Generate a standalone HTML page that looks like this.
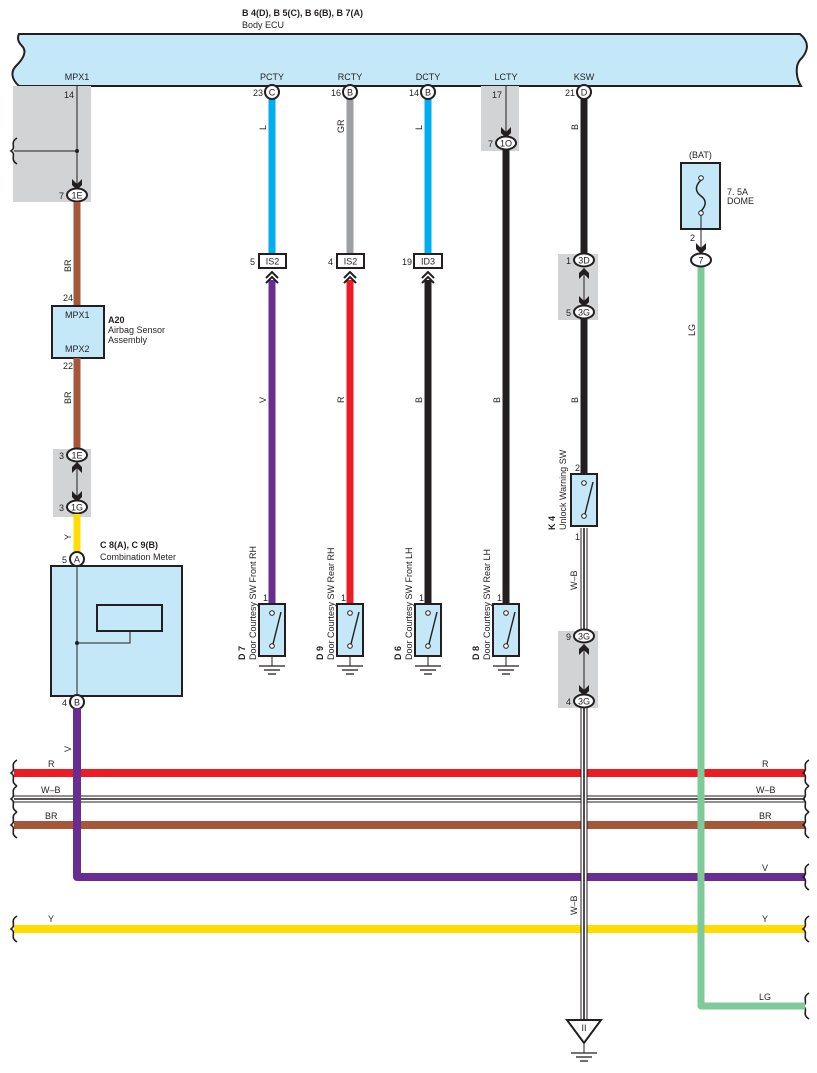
<!DOCTYPE html>
<html><head><meta charset="utf-8"><style>
html,body{margin:0;padding:0;background:#fff}
svg{display:block}
text{font-family:"Liberation Sans",Arial,sans-serif;font-size:9px;fill:#231f20}
.b{font-weight:bold}
</style></head><body>
<svg width="817" height="1073" viewBox="0 0 817 1073" xmlns="http://www.w3.org/2000/svg">
<defs>
<g id="dn"><path d="M-5,-7 L0,-2 L5,-7 L5,-1 L0,4 L-5,-1Z" fill="#231f20"/></g>
<g id="up"><path d="M-5,1 L0,-4 L5,1 L5,7 L0,2 L-5,7Z" fill="#231f20"/></g>
<g id="chev"><polyline points="-6,6 0,0 6,6" fill="none" stroke="#231f20" stroke-width="2"/><polyline points="-6,11 0,5 6,11" fill="none" stroke="#231f20" stroke-width="2"/></g>
<g id="gnd"><line x1="0" y1="0" x2="0" y2="10" stroke="#231f20" stroke-width="1"/><line x1="-13" y1="10" x2="13" y2="10" stroke="#231f20" stroke-width="1.3"/><line x1="-8" y1="14" x2="8" y2="14" stroke="#231f20" stroke-width="1.3"/><line x1="-4" y1="18" x2="4" y2="18" stroke="#231f20" stroke-width="1.3"/></g>
<g id="sw"><rect x="-13" y="0" width="26" height="52" fill="#c5e8f8" stroke="#231f20" stroke-width="2"/><circle cx="0" cy="9" r="2.3" fill="#fff" stroke="#231f20" stroke-width="1"/><circle cx="0" cy="42" r="2.3" fill="#fff" stroke="#231f20" stroke-width="1"/><line x1="1" y1="40" x2="9" y2="8" stroke="#231f20" stroke-width="1.4"/></g>
<g id="brace"><path d="M4,-13 C-4,-8 4,-4 -2,0 C4,4 -4,8 4,13" fill="none" stroke="#231f20" stroke-width="1.6"/></g>
</defs>

<text x="242" y="16" class="b">B 4(D), B 5(C), B 6(B), B 7(A)</text>
<text x="242" y="28">Body ECU</text>
<path d="M19,34 L800,34 C812,44 806,54 800,60 C795,66 796,78 801,86 L19,86 C12,80 10,72 16,66 C22,60 28,52 22,46 C18,42 17,38 19,34Z" fill="#c5e8f8" stroke="#231f20" stroke-width="2"/>
<text x="77" y="80" text-anchor="middle">MPX1</text>
<text x="272" y="80" text-anchor="middle">PCTY</text>
<text x="350" y="80" text-anchor="middle">RCTY</text>
<text x="428" y="80" text-anchor="middle">DCTY</text>
<text x="506" y="80" text-anchor="middle">LCTY</text>
<text x="584" y="80" text-anchor="middle">KSW</text>

<rect x="13" y="86" width="78" height="116" fill="#d1d3d4"/>
<rect x="481" y="86" width="38" height="65" fill="#d1d3d4"/>
<rect x="53" y="449" width="38" height="68" fill="#d1d3d4"/>
<rect x="558" y="254" width="40" height="66" fill="#d1d3d4"/>
<rect x="558" y="631" width="40" height="77" fill="#d1d3d4"/>

<line x1="77" y1="86" x2="77" y2="186" stroke="#231f20" stroke-width="1"/>
<line x1="14" y1="151" x2="77" y2="151" stroke="#231f20" stroke-width="1"/>
<circle cx="77" cy="151" r="2" fill="#231f20"/>
<use href="#brace" x="13" y="151"/>
<use href="#dn" x="77" y="186"/>
<text x="64" y="98">14</text>
<ellipse cx="77" cy="195" rx="10" ry="6.5" fill="#fff" stroke="#231f20" stroke-width="2"/>
<text x="77" y="198.5" text-anchor="middle">1E</text><text x="59" y="199">7</text>
<line x1="77" y1="202" x2="77" y2="306" stroke="#a6573a" stroke-width="7"/>
<text transform="translate(71,272) rotate(-90)">BR</text>
<rect x="52" y="306" width="52" height="52" fill="#c5e8f8" stroke="#231f20" stroke-width="2"/>
<text x="65" y="318">MPX1</text><text x="65" y="352">MPX2</text>
<text x="63" y="301">24</text><text x="63" y="369">22</text>
<text x="108" y="323" class="b">A20</text>
<text x="108" y="333">Airbag Sensor</text><text x="108" y="343">Assembly</text>
<line x1="77" y1="358" x2="77" y2="449" stroke="#a6573a" stroke-width="7"/>
<text transform="translate(71,404) rotate(-90)">BR</text>
<line x1="77" y1="462" x2="77" y2="500" stroke="#231f20" stroke-width="1"/>
<use href="#up" x="77" y="466"/><use href="#dn" x="77" y="498"/>
<ellipse cx="77" cy="455" rx="10" ry="6.5" fill="#fff" stroke="#231f20" stroke-width="2"/>
<text x="77" y="458.5" text-anchor="middle">1E</text><text x="59" y="459">3</text>
<ellipse cx="77" cy="507" rx="10" ry="6.5" fill="#fff" stroke="#231f20" stroke-width="2"/>
<text x="77" y="510.5" text-anchor="middle">1G</text><text x="59" y="511">3</text>
<line x1="77" y1="514" x2="77" y2="553" stroke="#ffdd00" stroke-width="7"/>
<text transform="translate(71,540) rotate(-90)">Y</text>
<text x="100" y="548" class="b">C 8(A), C 9(B)</text>
<text x="100" y="560">Combination Meter</text>
<rect x="51" y="566" width="131" height="130" fill="#c5e8f8" stroke="#231f20" stroke-width="2"/>
<rect x="97" y="605" width="65" height="26" fill="none" stroke="#231f20" stroke-width="2"/>
<line x1="77" y1="559" x2="77" y2="702" stroke="#231f20" stroke-width="1"/>
<polyline points="77,643 130,643 130,631" fill="none" stroke="#231f20" stroke-width="1"/>
<circle cx="77" cy="643" r="2" fill="#231f20"/>
<circle cx="77" cy="559" r="7" fill="#fff" stroke="#231f20" stroke-width="2"/>
<text x="77" y="562.5" text-anchor="middle">A</text><text x="62" y="563">5</text>
<circle cx="77" cy="702" r="7" fill="#fff" stroke="#231f20" stroke-width="2"/>
<text x="77" y="705.5" text-anchor="middle">B</text><text x="62" y="706">4</text>
<text transform="translate(71,752) rotate(-90)">V</text>

<line x1="14" y1="773" x2="805" y2="773" stroke="#ed1c24" stroke-width="8"/>
<line x1="14" y1="799" x2="805" y2="799" stroke="#231f20" stroke-width="7"/>
<line x1="14" y1="799" x2="805" y2="799" stroke="#fff" stroke-width="5"/>
<line x1="14" y1="799" x2="805" y2="799" stroke="#231f20" stroke-width="1.6"/>
<line x1="14" y1="825" x2="805" y2="825" stroke="#a6573a" stroke-width="8"/>
<polyline points="77,708 77,877 805,877" fill="none" stroke="#6b2c91" stroke-width="8" stroke-linejoin="round"/>
<line x1="14" y1="929" x2="805" y2="929" stroke="#ffdd00" stroke-width="8"/>
<text x="48" y="767">R</text><text x="41" y="793">W–B</text><text x="45" y="819">BR</text><text x="48" y="922">Y</text>
<text x="762" y="767">R</text><text x="756" y="793">W–B</text><text x="759" y="819">BR</text><text x="762" y="871">V</text><text x="762" y="922">Y</text><text x="759" y="1000">LG</text>
<use href="#brace" x="13" y="773"/><use href="#brace" x="13" y="799"/><use href="#brace" x="13" y="825"/><use href="#brace" x="13" y="929"/>
<use href="#brace" x="805" y="773"/><use href="#brace" x="805" y="799"/><use href="#brace" x="805" y="825"/><use href="#brace" x="805" y="877"/><use href="#brace" x="805" y="929"/><use href="#brace" x="805" y="1006"/>

<line x1="272" y1="98" x2="272" y2="255" stroke="#00aeef" stroke-width="7"/>
<text transform="translate(266,130) rotate(-90)">L</text>
<circle cx="272" cy="92" r="7" fill="#fff" stroke="#231f20" stroke-width="2"/>
<text x="272" y="95.5" text-anchor="middle">C</text><text x="253" y="96">23</text>
<rect x="259" y="254" width="27" height="14" fill="#fff" stroke="#231f20" stroke-width="2"/>
<text x="272.5" y="264.5" text-anchor="middle">IS2</text><text x="250" y="265">5</text>
<line x1="272" y1="280" x2="272" y2="605" stroke="#6b2c91" stroke-width="7"/>
<use href="#chev" x="272" y="272"/>
<text transform="translate(266,403) rotate(-90)">V</text>
<text x="263" y="601">1</text>
<use href="#sw" x="272" y="604"/><use href="#gnd" x="272" y="656"/>
<text transform="translate(245,660) rotate(-90)" class="b">D 7</text>
<text transform="translate(256,660) rotate(-90)">Door Courtesy SW Front RH</text>

<line x1="350" y1="98" x2="350" y2="255" stroke="#9d9fa2" stroke-width="7"/>
<text transform="translate(344,133) rotate(-90)">GR</text>
<circle cx="350" cy="92" r="7" fill="#fff" stroke="#231f20" stroke-width="2"/>
<text x="350" y="95.5" text-anchor="middle">B</text><text x="331" y="96">16</text>
<rect x="337" y="254" width="27" height="14" fill="#fff" stroke="#231f20" stroke-width="2"/>
<text x="350.5" y="264.5" text-anchor="middle">IS2</text><text x="328" y="265">4</text>
<line x1="350" y1="280" x2="350" y2="605" stroke="#ed1c24" stroke-width="7"/>
<use href="#chev" x="350" y="272"/>
<text transform="translate(344,403) rotate(-90)">R</text>
<text x="341" y="601">1</text>
<use href="#sw" x="350" y="604"/><use href="#gnd" x="350" y="656"/>
<text transform="translate(323,660) rotate(-90)" class="b">D 9</text>
<text transform="translate(334,660) rotate(-90)">Door Courtesy SW Rear RH</text>

<line x1="428" y1="98" x2="428" y2="255" stroke="#00aeef" stroke-width="7"/>
<text transform="translate(422,130) rotate(-90)">L</text>
<circle cx="428" cy="92" r="7" fill="#fff" stroke="#231f20" stroke-width="2"/>
<text x="428" y="95.5" text-anchor="middle">B</text><text x="409" y="96">14</text>
<rect x="414" y="254" width="28" height="14" fill="#fff" stroke="#231f20" stroke-width="2"/>
<text x="428" y="264.5" text-anchor="middle">ID3</text><text x="402" y="265">19</text>
<line x1="428" y1="280" x2="428" y2="605" stroke="#231f20" stroke-width="7"/>
<use href="#chev" x="428" y="272"/>
<text transform="translate(422,403) rotate(-90)">B</text>
<text x="419" y="601">1</text>
<use href="#sw" x="428" y="604"/><use href="#gnd" x="428" y="656"/>
<text transform="translate(401,660) rotate(-90)" class="b">D 6</text>
<text transform="translate(412,660) rotate(-90)">Door Courtesy SW Front LH</text>

<line x1="506" y1="86" x2="506" y2="134" stroke="#231f20" stroke-width="1"/>
<use href="#dn" x="506" y="134"/>
<text x="492" y="98">17</text>
<ellipse cx="506" cy="143" rx="10" ry="6.5" fill="#fff" stroke="#231f20" stroke-width="2"/>
<text x="506" y="146.5" text-anchor="middle">1O</text><text x="488" y="147">7</text>
<line x1="506" y1="150" x2="506" y2="605" stroke="#231f20" stroke-width="7"/>
<text transform="translate(500,403) rotate(-90)">B</text>
<text x="497" y="601">1</text>
<use href="#sw" x="506" y="604"/><use href="#gnd" x="506" y="656"/>
<text transform="translate(479,660) rotate(-90)" class="b">D 8</text>
<text transform="translate(490,660) rotate(-90)">Door Courtesy SW Rear LH</text>

<line x1="584" y1="98" x2="584" y2="254" stroke="#231f20" stroke-width="7"/>
<text transform="translate(578,130) rotate(-90)">B</text>
<circle cx="584" cy="92" r="7" fill="#fff" stroke="#231f20" stroke-width="2"/>
<text x="584" y="95.5" text-anchor="middle">D</text><text x="565" y="96">21</text>
<line x1="584" y1="268" x2="584" y2="305" stroke="#231f20" stroke-width="1"/>
<use href="#up" x="584" y="272"/><use href="#dn" x="584" y="303"/>
<ellipse cx="584" cy="260" rx="10" ry="6.5" fill="#fff" stroke="#231f20" stroke-width="2"/>
<text x="584" y="263.5" text-anchor="middle">3D</text><text x="566" y="264">1</text>
<ellipse cx="584" cy="312" rx="10" ry="6.5" fill="#fff" stroke="#231f20" stroke-width="2"/>
<text x="584" y="315.5" text-anchor="middle">3G</text><text x="566" y="316">5</text>
<line x1="584" y1="319" x2="584" y2="475" stroke="#231f20" stroke-width="7"/>
<text transform="translate(578,403) rotate(-90)">B</text>
<text x="575" y="471">2</text>
<use href="#sw" x="584" y="474"/>
<text transform="translate(555,530) rotate(-90)" class="b">K 4</text>
<text transform="translate(566,530) rotate(-90)">Unlock Warning SW</text>
<text x="575" y="540">1</text>
<g>
<line x1="584" y1="528" x2="584" y2="630" stroke="#231f20" stroke-width="7"/><line x1="584" y1="528" x2="584" y2="630" stroke="#fff" stroke-width="5"/><line x1="584" y1="528" x2="584" y2="630" stroke="#231f20" stroke-width="1.6"/>
<line x1="584" y1="707" x2="584" y2="1020" stroke="#231f20" stroke-width="7"/><line x1="584" y1="707" x2="584" y2="1020" stroke="#fff" stroke-width="5"/><line x1="584" y1="707" x2="584" y2="1020" stroke="#231f20" stroke-width="1.6"/>
</g>
<text transform="translate(577,590) rotate(-90)">W–B</text>
<text transform="translate(577,915) rotate(-90)">W–B</text>
<line x1="584" y1="644" x2="584" y2="694" stroke="#231f20" stroke-width="1"/>
<use href="#up" x="584" y="648"/><use href="#dn" x="584" y="692"/>
<ellipse cx="584" cy="636" rx="10" ry="6.5" fill="#fff" stroke="#231f20" stroke-width="2"/>
<text x="584" y="639.5" text-anchor="middle">3G</text><text x="566" y="640">9</text>
<ellipse cx="584" cy="701" rx="10" ry="6.5" fill="#fff" stroke="#231f20" stroke-width="2"/>
<text x="584" y="704.5" text-anchor="middle">3G</text><text x="566" y="705">4</text>
<path d="M567,1020 L601,1020 L584,1043Z" fill="#fff" stroke="#231f20" stroke-width="2"/>
<text x="584" y="1031" text-anchor="middle" font-size="8">II</text>
<use href="#gnd" x="584" y="1043"/>

<text x="689" y="158">(BAT)</text>
<rect x="681" y="163" width="39" height="66" fill="#c5e8f8" stroke="#231f20" stroke-width="2"/>
<circle cx="701" cy="178" r="2.3" fill="#fff" stroke="#231f20" stroke-width="1"/>
<circle cx="701" cy="213" r="2.3" fill="#fff" stroke="#231f20" stroke-width="1"/>
<path d="M701,180 C693,188 697,193 701,196 C705,199 708,204 701,211" fill="none" stroke="#231f20" stroke-width="1.5"/>
<text x="727" y="195">7. 5A</text><text x="727" y="204">DOME</text>
<line x1="701" y1="215" x2="701" y2="250" stroke="#231f20" stroke-width="1"/>
<text x="690" y="241">2</text>
<use href="#dn" x="701" y="250"/>
<polyline points="701,266 701,1006 805,1006" fill="none" stroke="#80c99b" stroke-width="7" stroke-linejoin="round"/>
<ellipse cx="701" cy="260" rx="10" ry="6.5" fill="#fff" stroke="#231f20" stroke-width="2"/>
<text x="701" y="263.5" text-anchor="middle">7</text>
<text transform="translate(695,336) rotate(-90)">LG</text>
</svg>
</body></html>
